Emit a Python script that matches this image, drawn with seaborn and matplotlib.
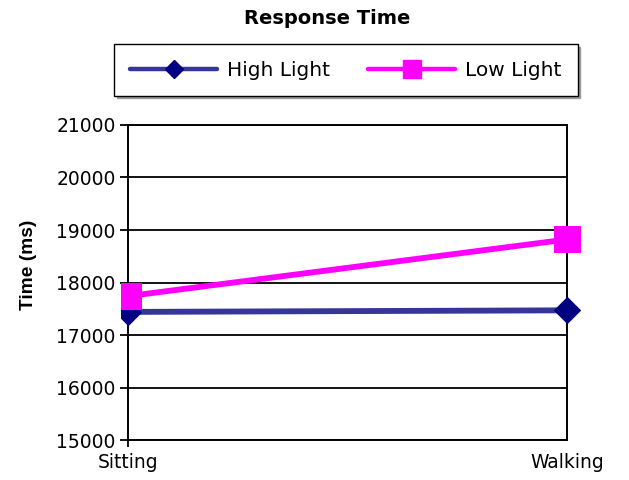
import matplotlib
matplotlib.use("Agg")
import matplotlib.pyplot as plt
import seaborn as sns
import pandas as pd
from matplotlib.lines import Line2D
from matplotlib.transforms import Bbox, TransformedBbox

postures = ["Sitting", "Walking"]
high_light = [17440, 17470]
low_light = [17740, 18820]
series_names = ["High Light", "Low Light"]
y_ticks = [15000, 16000, 17000, 18000, 19000, 20000, 21000]

df = pd.DataFrame({
    "Posture": postures * 2,
    "Time": high_light + low_light,
    "Condition": [series_names[0]] * 2 + [series_names[1]] * 2,
})

sns.set_style("white")
plt.rcParams["font.family"] = ["DejaVu Sans"]
plt.rcParams["text.color"] = "black"
plt.rcParams["axes.labelcolor"] = "black"
plt.rcParams["xtick.color"] = "black"
plt.rcParams["ytick.color"] = "black"

line_colors = {"High Light": "#35359A", "Low Light": "#FF00FF"}
marker_colors = {"High Light": "#000080", "Low Light": "#FF00FF"}
marker_shapes = {"High Light": "D", "Low Light": "s"}
marker_sizes = {"High Light": 13, "Low Light": 19}
legend_marker_sizes = {"High Light": 9, "Low Light": 13}
LW = 4.2

fig = plt.figure(figsize=(6.29, 4.8), dpi=100)
ax = fig.add_axes([0.2035, 0.0833, 0.698, 0.6563])

sns.lineplot(data=df, x="Posture", y="Time", hue="Condition", style="Condition",
             palette=line_colors, markers=marker_shapes, dashes=False,
             linewidth=LW, ax=ax, legend=False, sort=False)

# markers may overhang the right edge but are trimmed just left of the y axis
clip = TransformedBbox(Bbox([[-0.016, -0.5], [1.2, 1.5]]), ax.transAxes)
for line, name in zip(ax.get_lines(), series_names):
    line.set_markerfacecolor(marker_colors[name])
    line.set_markeredgecolor(marker_colors[name])
    line.set_markersize(marker_sizes[name])
    line.set_clip_box(clip)
    line.set_zorder(5)

ax.set_xlim(0, 1)
ax.set_ylim(15000, 21000)
ax.set_yticks(y_ticks)
ax.set_yticklabels([str(v) for v in y_ticks], fontsize=13.5, color="black")
ax.set_xticks([0, 1])
ax.set_xticklabels(postures, fontsize=13.5, color="black")
ax.grid(axis="y", color="black", linewidth=1.3)
ax.grid(axis="x", visible=False)
ax.set_axisbelow(True)
for s in ax.spines.values():
    s.set_visible(True)
    s.set_color("black")
    s.set_linewidth(1.4)
ax.tick_params(axis="y", length=6, width=1.3, color="black", pad=3, left=True)
ax.tick_params(axis="x", length=5, width=1.3, color="black", pad=4, bottom=True)
ax.xaxis.get_major_ticks()[1].tick1line.set_visible(False)
ax.set_xlabel("")
ax.set_ylabel("Time (ms)", fontsize=13.8, fontweight="bold", color="black",
              family=["Liberation Sans", "DejaVu Sans"])
ax.yaxis.set_label_coords(-0.208, 0.556)

fig.text(0.52, 0.9625, "Response Time", ha="center", va="center",
         fontsize=14, fontweight="bold", color="black")

handles = [
    Line2D([], [], color=line_colors[n], linewidth=3.2, marker=marker_shapes[n],
           markerfacecolor=marker_colors[n], markeredgecolor=marker_colors[n],
           markersize=legend_marker_sizes[n])
    for n in series_names
]
leg = fig.legend(handles, series_names, loc="center", ncol=2,
                 bbox_to_anchor=(0.550, 0.854), fontsize=14.5, frameon=True,
                 fancybox=False, shadow={"color": "#9a9a9a", "alpha": 1.0},
                 handlelength=4.3, columnspacing=1.9, handletextpad=0.5,
                 borderpad=0.8, borderaxespad=0)
leg.get_frame().set_edgecolor("black")
leg.get_frame().set_linewidth(1.0)
for t in leg.get_texts():
    t.set_color("black")

fig.savefig("out.png", dpi=100)
